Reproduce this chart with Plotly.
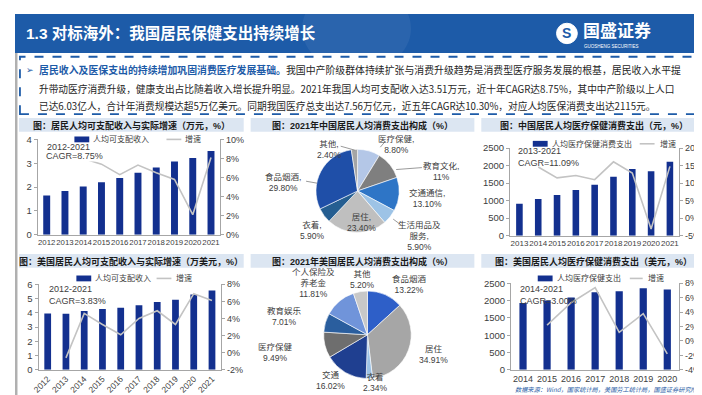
import plotly.graph_objects as go

W, H = 702, 395
def px(x): return x / W
def py(y): return 1 - y / H

# ---------------- DATA ----------------
cn_years = ['2012', '2013', '2014', '2015', '2016', '2017', '2018', '2019', '2020', '2021']
cn_income = [1.65, 1.83, 2.02, 2.20, 2.38, 2.60, 2.82, 3.07, 3.22, 3.51]
cn_income_growth = [None, 8.1, 8.0, 7.4, 6.3, 7.3, 6.5, 5.8, 2.1, 8.1]

cn_health_years = ['2013', '2014', '2015', '2016', '2017', '2018', '2019', '2020', '2021']
cn_health = [912, 1045, 1165, 1307, 1451, 1685, 1902, 1843, 2115]
cn_health_growth = [None, 14.6, 11.5, 12.2, 11.0, 16.1, 12.9, -3.1, 14.8]

us_years = ['2012', '2013', '2014', '2015', '2016', '2017', '2018', '2019', '2020', '2021']
us_income = [3.95, 3.93, 4.12, 4.27, 4.35, 4.53, 4.75, 4.91, 5.28, 5.57]
us_income_growth = [None, -0.6, 4.6, 3.3, 2.1, 4.0, 4.9, 3.3, 6.9, 6.1]

us_health_years = ['2014', '2015', '2016', '2017', '2018', '2019', '2020']
us_health = [1930, 2000, 2090, 2240, 2270, 2360, 2320]
us_health_growth = [None, 2.2, 5.3, 7.4, 1.2, 3.8, -1.8]

cn_pie_labels = ['医疗保健', '教育文化', '交通通信', '生活用品及服务', '居住', '衣着', '食品烟酒', '其他']
cn_pie_values = [8.80, 11.0, 13.10, 5.90, 23.40, 5.90, 29.80, 2.40]

us_pie_labels = ['食品烟酒', '居住', '衣着', '交通', '医疗保健', '教育娱乐', '个人保险及养老金', '其他']
us_pie_values = [13.22, 34.91, 2.34, 16.02, 9.49, 7.01, 11.81, 5.20]

# ---------------- STYLE ----------------
BLUE = '#1D5BA8'
BAR = '#13308F'
LINE = '#C3C3C3'
AX = '#A6A6A6'
TXT = '#404040'
FONT = 'Liberation Sans, Noto Sans CJK SC'
CJK = 'Noto Sans CJK SC'

CN_COLORS = ['#B4C7E7', '#7F7F7F', '#2E75C6', '#9DC3E6', '#BFBFBF', '#255E91', '#1F4FA8', '#A5A5A5']
US_COLORS = ['#2E5FC8', '#A6A6A6', '#9DC3E6', '#1F3F90', '#6E6E6E', '#2A5E9E', '#7094DA', '#C8C8C8']

fig = go.Figure()

def bar_line(xa, yl, yr, cats, vals, growth, name, width):
    fig.add_trace(go.Bar(x=cats, y=vals, name=name, marker=dict(color=BAR, line=dict(width=0)),
                         width=width, xaxis=xa, yaxis=yl, showlegend=False))
    fig.add_trace(go.Scatter(x=cats, y=growth, name='增速', mode='lines',
                             line=dict(color=LINE, width=1.6), xaxis=xa, yaxis=yr, showlegend=False))

bar_line('x', 'y', 'y2', cn_years, cn_income, cn_income_growth, '人均可支配收入', 0.38)
bar_line('x2', 'y3', 'y4', cn_health_years, cn_health, cn_health_growth, '人均医疗保健消费支出', 0.35)
bar_line('x3', 'y5', 'y6', us_years, us_income, us_income_growth, '人均可支配收入', 0.37)
bar_line('x4', 'y7', 'y8', us_health_years, us_health, us_health_growth, '人均医疗保健支出', 0.3)

def pct(v):
    return f"{v:.0f}%" if v == int(v) else f"{v:.2f}%"

fig.add_trace(go.Pie(labels=cn_pie_labels, values=cn_pie_values, sort=False, direction='clockwise',
                     rotation=0, marker=dict(colors=CN_COLORS, line=dict(color='white', width=0.6)),
                     textinfo='none', showlegend=False,
                     domain=dict(x=[px(304), px(388)], y=[py(225), py(139)])))
fig.add_trace(go.Pie(labels=us_pie_labels, values=us_pie_values, sort=False, direction='clockwise',
                     rotation=0, marker=dict(colors=US_COLORS, line=dict(color='white', width=0.6)),
                     textinfo='none', showlegend=False,
                     domain=dict(x=[px(311), px(401)], y=[py(375), py(285)])))

# ---------------- AXES ----------------
def xax(d0, d1, anchor, angle=0, size=8):
    return dict(domain=[px(d0), px(d1)], anchor=anchor, type='category', showline=True,
                linecolor=AX, linewidth=1, ticks='', showgrid=False, zeroline=False,
                tickangle=angle, tickfont=dict(family=FONT, size=size, color=TXT), fixedrange=True)

def yl(top, bot, anchor, rng, dtick):
    return dict(domain=[py(bot), py(top)], anchor=anchor, range=rng, dtick=dtick, showline=True,
                linecolor=AX, linewidth=1, ticks='outside', ticklen=3, tickcolor=AX,
                showgrid=False, zeroline=False, tickfont=dict(family=FONT, size=9.5, color=TXT),
                fixedrange=True)

def yr(overlay, anchor, rng, vals):
    return dict(overlaying=overlay, anchor=anchor, side='right', range=rng, tickvals=vals,
                ticktext=[f"{v}%" for v in vals], showline=True, linecolor=AX, linewidth=1,
                ticks='outside', ticklen=3, tickcolor=AX, showgrid=False, zeroline=False,
                tickfont=dict(family=FONT, size=9, color=TXT), fixedrange=True)

layout_axes = dict(
    xaxis=xax(22.8, 207.2, 'y', size=7.8),
    yaxis=yl(129, 227, 'x', [0, 4], 1),
    yaxis2=yr('y', 'x', [0, 10], [0, 2, 4, 6, 8, 10]),
    xaxis2=xax(500, 671, 'y3'),
    yaxis3=yl(138, 228, 'x2', [0, 2500], 500),
    yaxis4=yr('y3', 'x2', [-5, 20], [-5, 0, 5, 10, 15, 20]),
    xaxis3=xax(23.8, 208.2, 'y5', angle=-45, size=8.5),
    yaxis5=yl(278, 366, 'x3', [0, 6], 1),
    yaxis6=yr('y5', 'x3', [-2, 8], [-2, 0, 2, 4, 6, 8]),
    xaxis4=xax(501, 671, 'y7', size=9),
    yaxis7=yl(277, 366, 'x4', [0, 2500], 500),
    yaxis8=yr('y7', 'x4', [-4, 8], [-4, -2, 0, 2, 4, 6, 8]),
)

# ---------------- SHAPES ----------------
shapes = []
shapes.append(dict(type='rect', xref='paper', yref='paper', x0=0, x1=1, y0=py(40), y1=1,
                   fillcolor=BLUE, line=dict(width=0), layer='below'))
shapes.append(dict(type='circle', xref='paper', yref='paper', x0=px(290), x1=px(400), y0=py(60), y1=py(-30),
                   fillcolor='rgba(255,255,255,0.06)', line=dict(width=0), layer='below'))
shapes.append(dict(type='rect', xref='paper', yref='paper', x0=0, x1=px(2.5), y0=0, y1=py(40),
                   fillcolor='#B0B0B0', line=dict(width=0), layer='below'))
shapes.append(dict(type='rect', xref='paper', yref='paper', x0=px(5), x1=px(697), y0=py(103), y1=py(44),
                   line=dict(color=BLUE, width=1.8, dash='dash'), fillcolor='rgba(0,0,0,0)'))
for (a, b) in [(4, 231), (238, 464), (471, 698)]:
    for (t, bt) in [(107, 121), (247, 261)]:
        shapes.append(dict(type='rect', xref='paper', yref='paper', x0=px(a), x1=px(b), y0=py(bt), y1=py(t),
                           fillcolor='#DCE6F2', line=dict(width=0), layer='below'))
shapes.append(dict(type='circle', xref='paper', yref='paper', x0=px(547), x1=px(568), y0=py(30.5), y1=py(9.5),
                   fillcolor='white', line=dict(color='white', width=1)))
for (x0, y0, x1, y1) in [(329, 136, 343, 140), (369, 137, 374, 131), (385, 160, 411, 158),
                         (382, 211, 390, 217), (294, 172, 305, 174)]:
    shapes.append(dict(type='line', xref='paper', yref='paper', x0=px(x0), y0=py(y0), x1=px(x1), y1=py(y1),
                       line=dict(color='#808080', width=0.8)))

legend_specs = [(60, 129, 153, 168), (523, 133.5, 631, 646), (62, 272, 143, 158), (528, 272, 621, 634)]
for (sx, sy, lx0, lx1) in legend_specs:
    shapes.append(dict(type='rect', xref='paper', yref='paper', x0=px(sx), x1=px(sx + 15),
                       y0=py(sy + 3), y1=py(sy - 3), fillcolor=BAR, line=dict(width=0)))
    shapes.append(dict(type='line', xref='paper', yref='paper', x0=px(lx0), x1=px(lx1),
                       y0=py(sy), y1=py(sy), line=dict(color=LINE, width=1.6)))

# ---------------- ANNOTATIONS ----------------
ann = []
def A(x, y, text, size=9, color=TXT, xanchor='center', family=FONT, **kw):
    ann.append(dict(x=px(x), y=py(y), xref='paper', yref='paper', text=text, showarrow=False,
                    xanchor=xanchor, yanchor='middle', font=dict(family=family, size=size, color=color), **kw))

A(9, 20, '<b>1.3 对标海外：我国居民保健支出持续增长</b>', size=15.5, color='white', xanchor='left')
A(557.5, 20, '<b>S</b>', size=14, color=BLUE)
A(572, 18, '<b>国盛证券</b>', size=17, color='white', xanchor='left')
A(573, 33.5, 'GUOSHENG SECURITIES', size=4.5, color='white', xanchor='left')

A(9, 58, '➢', size=9, color=BLUE, xanchor='left')
A(22, 58, '<span style="color:#1D5BA8"><b>居民收入及医保支出的持续增加巩固消费医疗发展基础。</b></span>'
          '我国中产阶级群体持续扩张与消费升级趋势是消费型医疗服务发展的根基，居民收入水平提',
  size=9.9, color='#262626', xanchor='left', family=CJK)
A(22, 77, '升带动医疗消费升级，健康支出占比随着收入增长提升明显。2021年我国人均可支配收入达3.51万元，近十年CAGR达8.75%，其中中产阶级以上人口',
  size=9.7, color='#262626', xanchor='left', family=CJK)
A(22, 95, '已达6.03亿人，合计年消费规模达超5万亿美元。同期我国医疗总支出达7.56万亿元，近五年CAGR达10.30%，对应人均医保消费支出达2115元。',
  size=9.7, color='#262626', xanchor='left', family=CJK)

titles_top = ['图：居民人均可支配收入与实际增速（万元，%）', '图：2021年中国居民人均消费支出构成（%）',
              '图：中国居民人均医疗保健消费支出（元，%）']
titles_bot = ['图：美国居民人均可支配收入与实际增速（万美元，%）', '图：2021年美国居民人均消费支出构成（%）',
              '图：美国居民人均医疗保健消费支出（美元，%）']
for cx, t1, t2 in zip([117.5, 351, 584.5], titles_top, titles_bot):
    A(cx, 114.5, f'<b>{t1}</b>', size=9, color='#1A1A1A')
    A(cx, 254.5, f'<b>{t2}</b>', size=9, color='#1A1A1A')

legend_texts = [('人均可支配收入', 77, 129, 170), ('人均医疗保健消费支出', 540, 133.5, 649),
                ('人均可支配收入', 79, 272, 161), ('人均医疗保健支出', 545, 272, 637)]
for (t, tx, ty, gx) in legend_texts:
    A(tx, ty, t, size=8, xanchor='left')
    A(gx, ty, '增速', size=8, xanchor='left')

A(30, 137, '2012-2021', size=9, xanchor='left')
A(30, 146, 'CAGR=8.75%', size=9, xanchor='left', bgcolor='white', borderpad=0)
A(506, 147.5, '2013-2021<br>CAGR=11.09%', size=9, xanchor='left', align='left')
A(32, 289, '2012-2021<br>CAGR=3.83%', size=9, xanchor='left', align='left')
A(508, 289, '2014-2021<br>CAGR=3.00%', size=9, xanchor='left', align='left')

cn_pos = {'医疗保健': (385, 134), '教育文化': (430, 162), '交通通信': (416, 190),
          '生活用品及服务': (409, 228), '居住': (350, 214), '衣着': (301, 223),
          '食品烟酒': (271, 173), '其他': (318, 139)}
for lab, v in zip(cn_pie_labels, cn_pie_values):
    name = lab if lab != '生活用品及服务' else '生活用品及<br>服务'
    A(*cn_pos[lab], f'{name},<br>{pct(v)}', size=8.5)

us_pos = {'食品烟酒': (398, 278), '居住': (423, 350), '衣着': (364, 379.5), '交通': (319, 377),
          '医疗保健': (263, 348), '教育娱乐': (272, 311), '个人保险及养老金': (302, 277), '其他': (351, 273)}
for lab, v in zip(us_pie_labels, us_pie_values):
    name = lab if lab != '个人保险及养老金' else '个人保险及<br>养老金'
    A(*us_pos[lab], f'{name}<br>{pct(v)}', size=8.5)

A(597, 386.5, '<i>数据来源：Wind，国家统计局，美国劳工统计局，国盛证券研究所</i>', size=6.2, color='#2E5FA8', family=CJK)

fig.update_layout(
    width=W, height=H, margin=dict(l=0, r=0, t=0, b=0),
    paper_bgcolor='white', plot_bgcolor='rgba(0,0,0,0)',
    font=dict(family=FONT, size=9, color=TXT),
    bargap=0.6, shapes=shapes, annotations=ann, showlegend=False,
    **layout_axes,
)

fig.write_html('out.html')
